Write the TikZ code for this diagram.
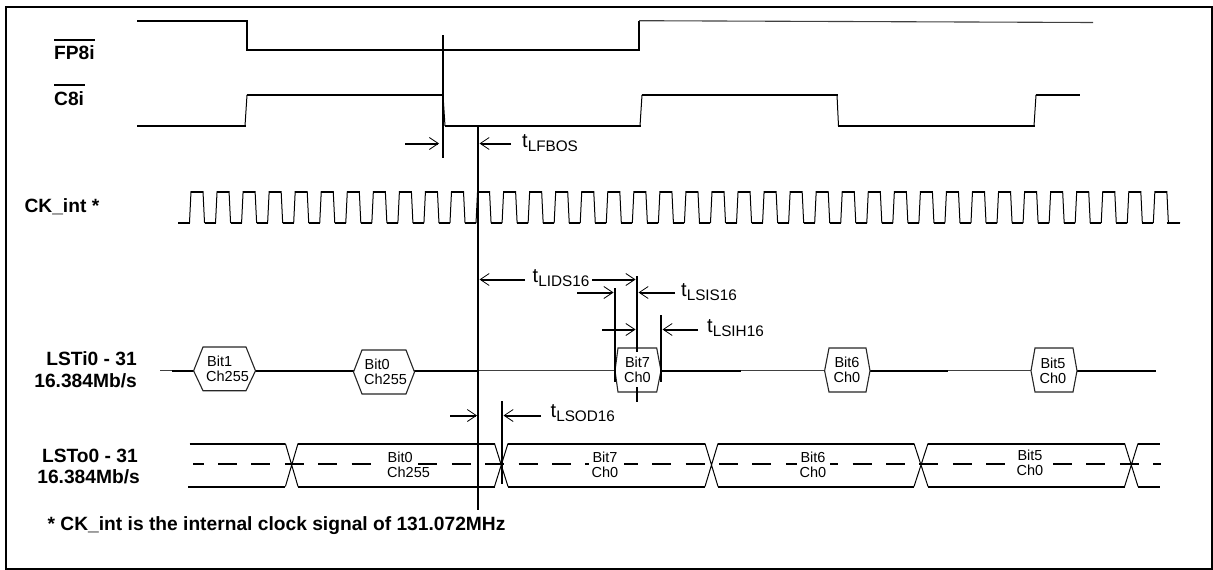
\documentclass[tikz,border=0pt]{standalone}
\usepackage{fontspec}
\setmainfont{Liberation Sans}
\usetikzlibrary{arrows.meta}
\newcommand{\tlabel}[1]{{\fontsize{20}{20}\selectfont t}\raisebox{-3.5pt}{\fontsize{15.3}{15.3}\selectfont #1}}
\tikzset{
  x=1pt,y=-1pt,
  frameline/.style={line width=2pt},
  wave/.style={line width=2pt,line join=miter},
  slope/.style={line width=1pt,line join=miter},
  thinwave/.style={line width=0.9pt,black!75},
  mark line/.style={line width=2pt},
  dim/.style={line width=2pt,-{Straight Barb[length=9pt,width=12pt,line width=0.8pt]}},
  siglabel/.style={font=\bfseries\fontsize{19.2}{19.2}\selectfont,inner sep=0pt},
  bitlabel/.style={font=\fontsize{14.5}{14.5}\selectfont,inner sep=0.5pt},
  timelabel/.style={inner sep=0pt,anchor=west},
  hex/.style={line width=1.1pt,fill=white,draw=black!85},
  patch/.style={fill=white},
}
\begin{document}
\begin{tikzpicture}
\useasboundingbox (0,0) rectangle (1213,570);
\draw[frameline] (5.7,6.7) rectangle (1212.3,569);

% FP8i
\draw[wave] (137,20.5) -- (246.5,20.5) -- (246.5,49.5) -- (638.5,49.5) -- (638.5,20.5);
\draw[thinwave,line width=1.1pt] (639,20.7) -- (1093,22.5);
% C8i
\draw[slope] (245,126) -- (247,95) (443,95) -- (445,126) (640,126) -- (642,95) (837,95) -- (838.5,126) (1034,126) -- (1036,95);
\draw[wave] (137,126) -- (245.5,126) (246.5,95) -- (443.5,95) (444.5,126) -- (640.5,126) (641.5,95) -- (837.5,95) (838,126) -- (1034.5,126) (1035.5,95) -- (1080,95);

% CK_int
\draw[slope] (178,222.5)
  foreach \i in {0,...,37} {
    -- ({189.5+26.05*\i},222.5) -- ({191+26.05*\i},191.5) -- ({203+26.05*\i},191.5) -- ({204.5+26.05*\i},222.5)
  } -- (1180,222.5);
\draw[wave] (178,222.5) -- (189.5,222.5)
  foreach \i in {0,...,37} {
    ({191+26.05*\i},191.5) -- ({203+26.05*\i},191.5)
    ({204.5+26.05*\i},222.5) -- ({215.5+26.05*\i},222.5)
  } (1166.7,222.5) -- (1180,222.5);

% LSTi baseline
\draw[thinwave] (160,370.5) -- (175,370.5);
\draw[wave] (172,370.5) -- (194,370.5) (255,370.5) -- (354,370.5) (414,370.5) -- (478,370.5);
\draw[thinwave] (478,370.5) -- (616,370.5);
\draw[wave] (660,370.5) -- (741,370.5);
\draw[thinwave] (741,370.5) -- (825,370.5);
\draw[wave] (870,370.5) -- (948,370.5);
\draw[thinwave] (948,370.5) -- (1032,370.5);
\draw[wave] (1077,370.5) -- (1156,370.5);

% LSTo data eye
\draw[wave,dash pattern=on 19pt off 14.4pt,dash phase=8.4pt] (193,464) -- (1161,464);
\fill[patch] (385,460) rectangle (412,468);
\fill[patch] (589,460) rectangle (624,468);
\fill[patch] (797,460) rectangle (830,468);
\fill[patch] (1015,460) rectangle (1045,468);
\draw[wave] (189.5,443.5) -- (285.4,443.5) (298,486.5) -- (494.5,486.5) (508,443.5) -- (705,443.5) (718,486.5) -- (914,486.5) (928,443.5) -- (1124.6,443.5) (1138,486.5) -- (1160,486.5);
\draw[wave] (188,486.5) -- (285.4,486.5) (298,443.5) -- (494.5,443.5) (508,486.5) -- (705,486.5) (718,443.5) -- (914,443.5) (928,486.5) -- (1124.6,486.5) (1138,443.5) -- (1160,443.5);
\draw[slope] (285.4,443.5) -- (298,486.5) (285.4,486.5) -- (298,443.5)
  (494.5,443.5) -- (508,486.5) (494.5,486.5) -- (508,443.5)
  (705,443.5) -- (718,486.5) (705,486.5) -- (718,443.5)
  (914,443.5) -- (928,486.5) (914,486.5) -- (928,443.5)
  (1124.6,443.5) -- (1138,486.5) (1124.6,486.5) -- (1138,443.5);

% Timing reference lines
\coordinate (v1t) at (442.5,35); \coordinate (v1b) at (442.5,158);
\coordinate (v2t) at (478,126); \coordinate (v2b) at (478,510);
\coordinate (v3t) at (636.5,276); \coordinate (v3b) at (636.5,401.7);
\coordinate (v4t) at (615,288); \coordinate (v4b) at (615,381.7);
\coordinate (v5t) at (660.5,315); \coordinate (v5b) at (660.5,381.7);
\coordinate (v6t) at (501.5,401); \coordinate (v6b) at (501.5,484);
\draw[mark line] (v1t) -- (v1b);
\draw[mark line] (v2t) -- (v2b);
\draw[mark line] (v3t) -- (v3b);
\draw[mark line] (v6t) -- (v6b);

% Hexagons
\draw[hex] (193.6,370.8) -- (203,347) -- (246,347) -- (255.5,370.8) -- (246,390.7) -- (203,390.7) -- cycle;
\draw[hex] (353.5,372) -- (362,350) -- (406,350) -- (414.5,372) -- (406,394) -- (362,394) -- cycle;
\draw[hex] (615,370.8) -- (618,348) -- (656.7,348) -- (661,370.8) -- (656.7,392) -- (618,392) -- cycle;
\draw[hex] (824.6,370.8) -- (829,348) -- (866,348) -- (870,370.8) -- (866,392) -- (829,392) -- cycle;
\draw[hex] (1031,370.8) -- (1035,348) -- (1073,348) -- (1077,370.8) -- (1073,392) -- (1035,392) -- cycle;
\draw[mark line] (v3t) -- (636.5,352);
\draw[mark line] (636.5,387) -- (v3b);
\draw[mark line] (v4t) -- (v4b);
\draw[mark line] (v5t) -- (v5b);

% Hexagon texts
\node[bitlabel,anchor=west] (a1) at (206.5,361) {Bit1};
\node[bitlabel,anchor=west] (a2) at (205.5,376) {Ch255};
\node[bitlabel,anchor=west] (b1) at (364,364) {Bit0};
\node[bitlabel,anchor=west] (b2) at (363.5,379) {Ch255};
\node[bitlabel] (c1) at (637.5,362) {Bit7};
\node[bitlabel] (c2) at (637.5,377) {Ch0};
\node[bitlabel] (d1) at (847,362) {Bit6};
\node[bitlabel] (d2) at (847,377) {Ch0};
\node[bitlabel] (e1) at (1053,363) {Bit5};
\node[bitlabel] (e2) at (1053,378) {Ch0};

% Eye texts
\node[bitlabel,anchor=west] (f1) at (387,457) {Bit0};
\node[bitlabel,anchor=west] (f2) at (386.5,472) {Ch255};
\node[bitlabel] (g1) at (605,457) {Bit7};
\node[bitlabel] (g2) at (605,472) {Ch0};
\node[bitlabel] (h1) at (813,457) {Bit6};
\node[bitlabel] (h2) at (813,472) {Ch0};
\node[bitlabel] (i1) at (1030,455) {Bit5};
\node[bitlabel] (i2) at (1030,470) {Ch0};

% Dimension arrows
\coordinate (p1) at (405,143.5); \coordinate (q1) at (439,143.5);
\coordinate (p2) at (511,143.5); \coordinate (q2) at (479.5,143.5);
\draw[dim] (p1) -- (q1);
\draw[dim] (p2) -- (q2);
\node[timelabel] (tlfbos) at (522,143) {\tlabel{LFBOS}};

\coordinate (p3) at (525,279.5); \coordinate (q3) at (479.5,279.5);
\coordinate (p4) at (592,279.5); \coordinate (q4) at (635.5,279.5);
\draw[dim] (p3) -- (q3);
\draw[dim] (p4) -- (q4);
\node[timelabel] (tlids) at (532.5,278) {\tlabel{LIDS16}};

\coordinate (p5) at (577,292.5); \coordinate (q5) at (613.5,292.5);
\coordinate (p6) at (675,292.5); \coordinate (q6) at (638.5,292.5);
\draw[dim] (p5) -- (q5);
\draw[dim] (p6) -- (q6);
\node[timelabel] (tlsis) at (681,292) {\tlabel{LSIS16}};

\coordinate (p7) at (602,329.5); \coordinate (q7) at (635.5,329.5);
\coordinate (p8) at (698,329.5); \coordinate (q8) at (662.5,329.5);
\draw[dim] (p7) -- (q7);
\draw[dim] (p8) -- (q8);
\node[timelabel] (tlsih) at (707,328) {\tlabel{LSIH16}};

\coordinate (p9) at (450,415.5); \coordinate (q9) at (477,415.5);
\coordinate (p10) at (541,415.5); \coordinate (q10) at (503.5,415.5);
\draw[dim] (p9) -- (q9);
\draw[dim] (p10) -- (q10);
\node[timelabel] (tlsod) at (550.5,413) {\tlabel{LSOD16}};

% Signal names
\node[siglabel,anchor=west] (fp) at (54,52.7) {FP8i};
\node[siglabel,anchor=west] (c8) at (54,99) {C8i};
\draw[line width=2pt] (54,39.5) -- (95,39.5);
\draw[line width=2pt] (54,85) -- (85,85);
\node[siglabel,anchor=west] (ck) at (24.4,207) {CK\_int *};
\node[siglabel,anchor=east] (li1) at (137,359) {LSTi0 - 31};
\node[siglabel,anchor=east] (li2) at (137,380.7) {16.384Mb/s};
\node[siglabel,anchor=east] (lo1) at (138,456) {LSTo0 - 31};
\node[siglabel,anchor=east] (lo2) at (140,476.7) {16.384Mb/s};
\node[siglabel,anchor=west] (note) at (47.5,526) {* CK\_int is the internal clock signal of 131.072MHz};
\end{tikzpicture}
\end{document}
